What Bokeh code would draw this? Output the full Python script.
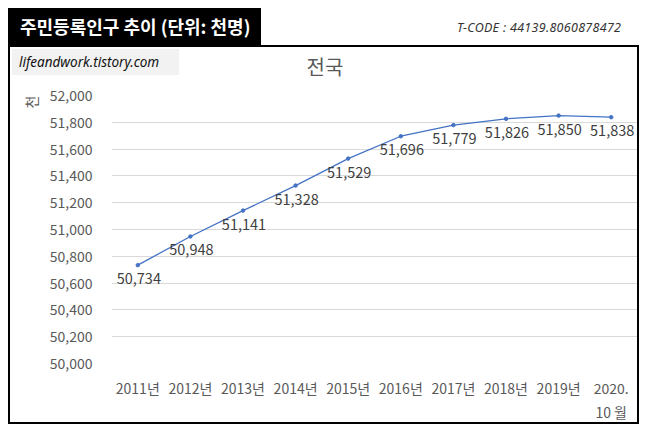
from bokeh.plotting import figure
from bokeh.models import FactorRange, Range1d, Div, ColumnDataSource, FixedTicker, NumeralTickFormatter, Title
from bokeh.layouts import column
from bokeh.embed import file_html
from bokeh.resources import INLINE
from bokeh.core.properties import value

years = ["2011년", "2012년", "2013년", "2014년", "2015년", "2016년", "2017년", "2018년", "2019년", "2020.\n10 월"]
population = [50734, 50948, 51141, 51328, 51529, 51696, 51779, 51826, 51850, 51838]
y_ticks = [50000, 50200, 50400, 50600, 50800, 51000, 51200, 51400, 51600, 51800, 52000]

FONT = "Noto Sans CJK KR"

src = ColumnDataSource(dict(x=years, y=population,
                            lbl=["{:,}".format(v) for v in population]))

header = Div(width=631, height=37, margin=0, text=(
    '<div style="position:relative;width:631px;height:37px;">'
    '<div style="position:absolute;left:0;top:0;width:253px;height:37px;background:#000;'
    'color:#fff;font-family:\'Noto Sans CJK KR\';font-weight:bold;font-size:18px;'
    'line-height:37px;padding-left:12px;box-sizing:border-box;white-space:nowrap;">'
    '주민등록인구 추이 (단위: 천명)</div>'
    '<div style="position:absolute;left:449px;top:11px;font-family:\'Noto Sans\';'
    'font-style:italic;font-size:12.5px;letter-spacing:0.3px;color:#333;white-space:nowrap;">'
    'T-CODE : 44139.8060878472</div>'
    '</div>'))

strip = Div(width=631, height=32, margin=0,
            styles={"border-top": "2px solid #000", "border-left": "2px solid #000",
                    "border-right": "2px solid #000", "box-sizing": "border-box",
                    "background": "#fff"},
            text=(
    '<div style="position:relative;width:627px;height:30px;">'
    '<div style="position:absolute;left:2px;top:2px;width:167px;height:26px;background:#f2f2f2;'
    'font-family:\'Noto Sans\';font-style:italic;font-size:13.5px;color:#111;'
    'line-height:26px;padding-left:7px;box-sizing:border-box;white-space:nowrap;">'
    'lifeandwork.tistory.com</div>'
    '<div style="position:absolute;left:265px;width:100px;top:6px;text-align:center;'
    'font-family:\'Noto Sans CJK KR\';font-size:20px;line-height:28px;color:#595959;">전국</div>'
    '</div>'))

p = figure(width=631, height=347, x_range=FactorRange(*years), y_range=Range1d(50000, 52000),
           output_backend="svg", toolbar_location=None, margin=0,
           min_border_left=101, min_border_right=4, min_border_top=18, min_border_bottom=59)
p.styles = {"border-left": "2px solid #000", "border-right": "2px solid #000",
            "border-bottom": "2px solid #000", "box-sizing": "border-box"}
p.outline_line_color = None
p.background_fill_color = "white"
p.border_fill_color = "white"

p.line("x", "y", source=src, line_color="#4472C4", line_width=1.3)
p.scatter("x", "y", source=src, size=3.5, color="#4472C4")
p.text("x", "y", text="lbl", source=src, text_align="center", text_baseline="top",
       x_offset=1, y_offset=8, text_font=value(FONT), text_font_size="14.5px",
       text_color="#404040")

p.yaxis.ticker = FixedTicker(ticks=y_ticks)
p.yaxis.formatter = NumeralTickFormatter(format="0,0")
p.ygrid.ticker = FixedTicker(ticks=y_ticks)
p.ygrid.grid_line_color = "#d9d9d9"
p.xgrid.grid_line_color = None
for ax in (p.xaxis, p.yaxis):
    ax.axis_line_color = None
    ax.major_tick_line_color = None
    ax.minor_tick_line_color = None
    ax.major_tick_out = 0
    ax.major_tick_in = 0
    ax.major_label_text_font = FONT
    ax.major_label_text_font_size = "14px"
    ax.major_label_text_color = "#595959"
p.yaxis.major_label_standoff = 19
p.xaxis.major_label_standoff = 14

p.add_layout(Title(text="천", align="right", text_font=FONT, text_font_size="14px",
                   text_font_style="normal", text_color="#595959", standoff=12), "left")

layout = column(header, strip, p, spacing=0, margin=(8, 8, 8, 8))
open("out.html", "w").write(file_html(layout, INLINE))
